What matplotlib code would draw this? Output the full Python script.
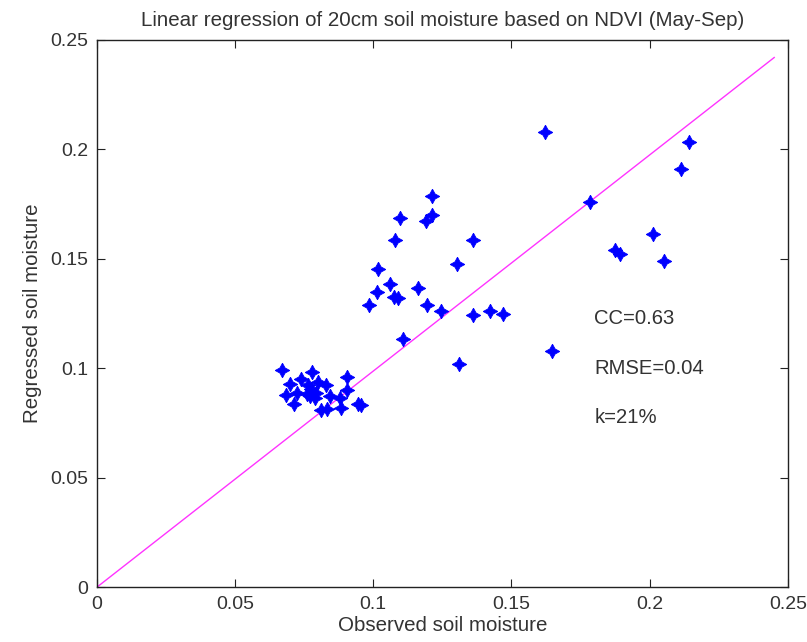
import matplotlib
matplotlib.use("Agg")
import matplotlib.pyplot as plt
from matplotlib import font_manager

observed = [0.1621, 0.2143, 0.2113, 0.1784, 0.2013, 0.1875, 0.1893, 0.2053, 0.1646,
            0.1212, 0.1097, 0.1190, 0.1214, 0.1079, 0.1362, 0.1019, 0.1304, 0.1061,
            0.1013, 0.1161, 0.1077, 0.1091, 0.0986, 0.1196, 0.1245, 0.1360, 0.1423,
            0.1469, 0.1109, 0.1311,
            0.0670, 0.0778, 0.0907, 0.0700, 0.0740, 0.0765, 0.0800, 0.0830, 0.0775,
            0.0685, 0.0725, 0.0770, 0.0790, 0.0905, 0.0880, 0.0845, 0.0715, 0.0835,
            0.0810, 0.0885, 0.0945, 0.0955, 0.0760, 0.0795]
regressed = [0.2081, 0.2034, 0.1913, 0.1761, 0.1612, 0.1543, 0.1525, 0.1490, 0.1079,
             0.1787, 0.1688, 0.1673, 0.1700, 0.1586, 0.1586, 0.1455, 0.1478, 0.1387,
             0.1349, 0.1369, 0.1327, 0.1320, 0.1289, 0.1289, 0.1262, 0.1242, 0.1262,
             0.1251, 0.1136, 0.1021,
             0.0995, 0.0985, 0.0960, 0.0930, 0.0950, 0.0925, 0.0940, 0.0925, 0.0905,
             0.0880, 0.0890, 0.0875, 0.0865, 0.0900, 0.0865, 0.0875, 0.0840, 0.0815,
             0.0810, 0.0820, 0.0840, 0.0835, 0.0885, 0.0890]
line_x = [0.0, 0.245]
line_y = [0.0, 0.242]
ticks = [0, 0.05, 0.1, 0.15, 0.2, 0.25]
tick_labels = ["0", "0.05", "0.1", "0.15", "0.2", "0.25"]
stats = ["CC=0.63", "RMSE=0.04", "k=21%"]
stats_y = [0.123, 0.100, 0.0774]

names = {f.name for f in font_manager.fontManager.ttflist}
fam = "Liberation Sans Narrow" if "Liberation Sans Narrow" in names else "Liberation Sans"
plt.rcParams['font.family'] = [fam, 'DejaVu Sans']
txt = '#333333'

fig = plt.figure(figsize=(8.07, 6.42), dpi=100)
ax = fig.add_axes([0.1196, 0.0849, 0.8569, 0.8528])
ax.plot(line_x, line_y, color='#ff33ff', lw=1.0)
ax.plot(observed, regressed, linestyle='none', marker=(4, 1, 0), markersize=10.5,
        color='#0000ff', markeredgewidth=0.6)
ax.set_xlim(0, 0.25)
ax.set_ylim(0, 0.25)
ax.set_xticks(ticks)
ax.set_xticklabels(tick_labels)
ax.set_yticks(ticks)
ax.set_yticklabels(tick_labels)
ax.tick_params(direction='in', length=6, labelsize=14, colors='#222222', labelcolor=txt,
               top=True, right=True, pad=6)
for s in ax.spines.values():
    s.set_color('#222222')
    s.set_linewidth(1.0)
ax.set_xlabel("Observed soil moisture", fontsize=14.8, color=txt, labelpad=2)
ax.set_ylabel("Regressed soil moisture", fontsize=14.8, color=txt, labelpad=6)
ax.set_title("Linear regression of 20cm soil moisture based on NDVI (May-Sep)",
             fontsize=14.8, color=txt, pad=10)
for s, yv in zip(stats, stats_y):
    ax.text(0.180, yv, s, fontsize=14.6, color=txt, va='center', ha='left')
fig.savefig("out.png", dpi=100, facecolor='white')
